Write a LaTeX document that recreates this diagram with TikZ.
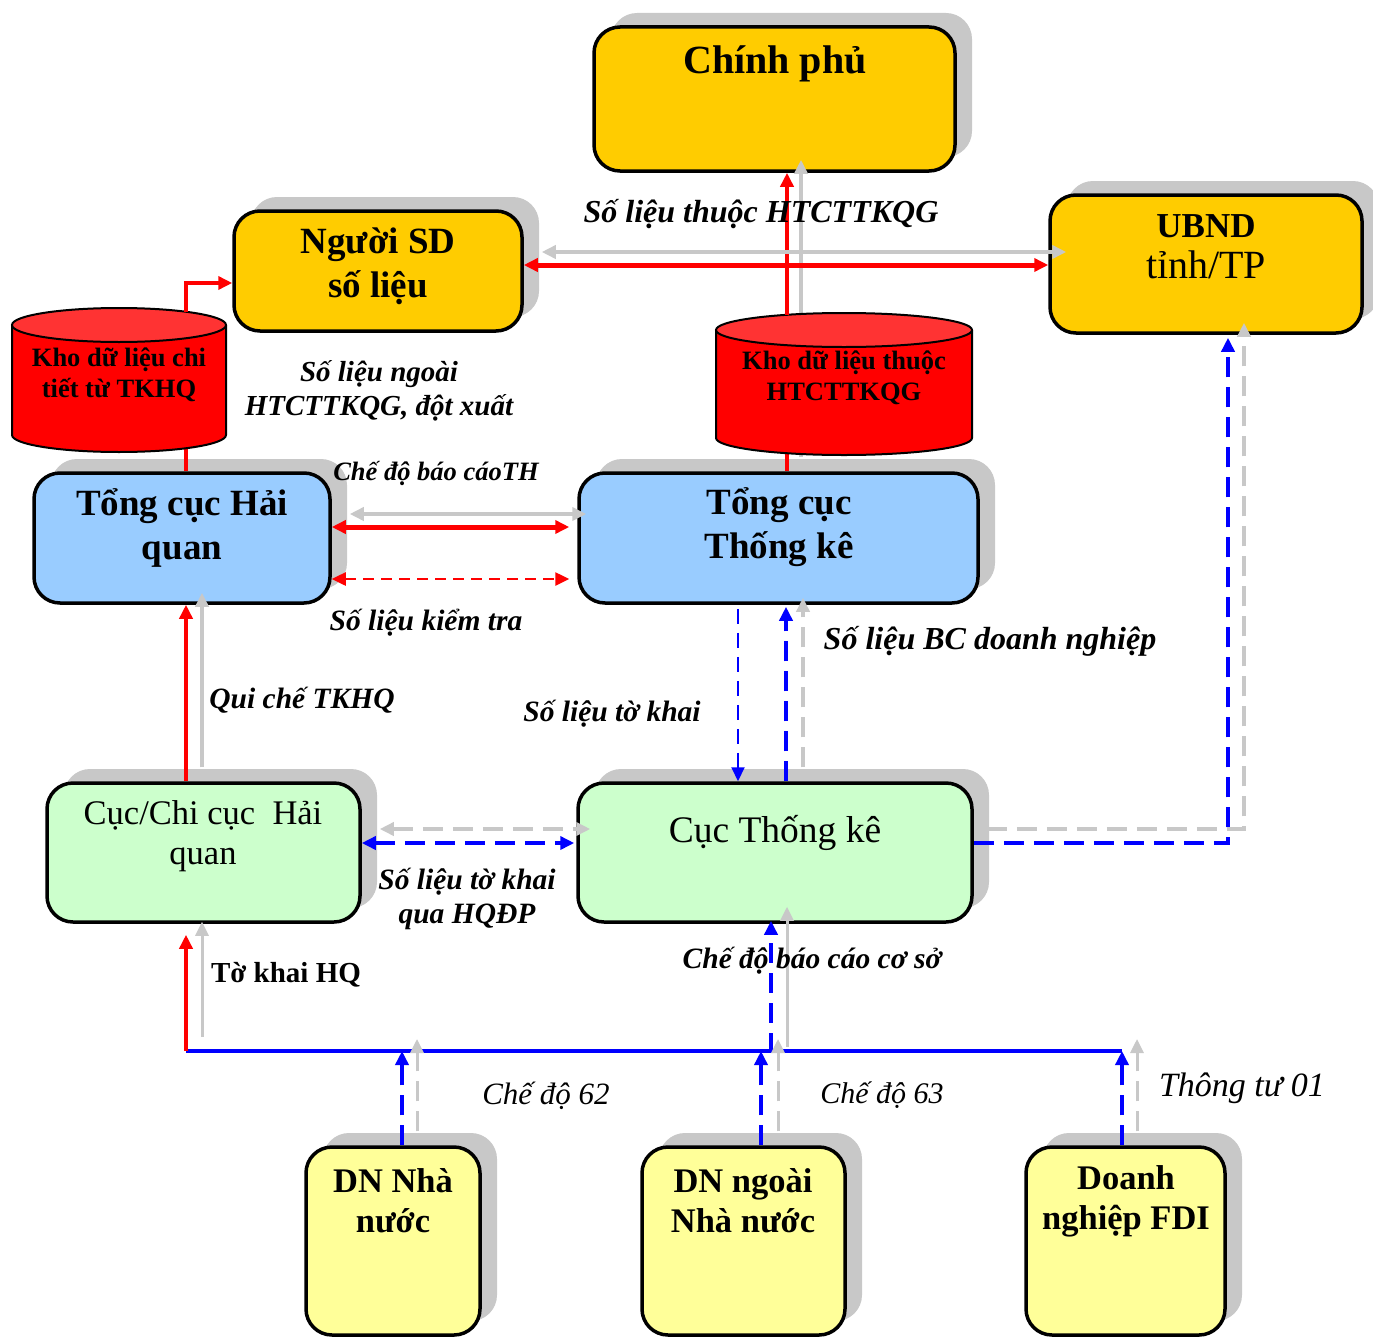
\documentclass[tikz,border=0pt]{standalone}
\usepackage{fontspec}
\setmainfont{Liberation Serif}
\usetikzlibrary{arrows.meta,calc,shadows}
\definecolor{cpyellow}{HTML}{FFCC00}
\definecolor{tcblue}{HTML}{99CCFF}
\definecolor{cgreen}{HTML}{CCFFCC}
\definecolor{dnyellow}{HTML}{FFFF99}
\definecolor{shgray}{RGB}{200,200,200}
\definecolor{arrgray}{RGB}{200,200,200}
\definecolor{kred}{HTML}{FF0000}
\definecolor{ktop}{HTML}{FF3333}
\definecolor{bblue}{HTML}{0000FF}
\begin{document}
\begin{tikzpicture}[x=1pt,y=-1pt,
  box/.style={draw=black, line width=3.5pt, rounded corners=26pt, inner sep=0pt,
    drop shadow={opacity=1, fill=shgray, shadow xshift=17pt, shadow yshift=14pt}},
  txt/.style={inner sep=0pt, align=center},
  bigb/.style={font=\fontsize{37}{44}\selectfont\bfseries},
  lab/.style={inner sep=0pt, align=center, font=\fontsize{29.5}{34}\selectfont\bfseries\itshape},
  redthick/.style={draw=kred, line width=5pt},
  redthin/.style={draw=kred, line width=3.5pt},
  greyln/.style={draw=arrgray, line width=4pt},
  bluedash/.style={draw=bblue, line width=3.5pt, dash pattern=on 20pt off 10pt},
  bluethin/.style={draw=bblue, line width=2pt, dash pattern=on 15pt off 9pt},
  greydash/.style={draw=arrgray, line width=4pt, dash pattern=on 20pt off 10pt},
  reddash/.style={draw=kred, line width=2.5pt, dash pattern=on 11pt off 7pt},
  bluesolid/.style={draw=bblue, line width=3.5pt},
  arr/.style={-{Triangle[length=14pt,width=13pt]}},
  darr/.style={{Triangle[length=14pt,width=13pt]}-{Triangle[length=14pt,width=13pt]}}
]
\useasboundingbox[fill=white] (0,0) rectangle (1373,1338);

% ---------- boxes ----------
\node[box, fill=cpyellow, minimum width=361pt, minimum height=144pt] (cp) at (774.5,99) {};
\node[box, fill=cpyellow, minimum width=288pt, minimum height=120pt] (nsd) at (378,271) {};
\node[box, fill=cpyellow, minimum width=312pt, minimum height=138pt] (ubnd) at (1206,264) {};
\node[box, fill=tcblue, minimum width=296pt, minimum height=130pt] (tchq) at (182,538) {};
\node[box, fill=tcblue, minimum width=399pt, minimum height=130pt] (tctk) at (778.5,538) {};
\node[box, fill=cgreen, minimum width=313pt, minimum height=139pt] (chq) at (203.5,852.5) {};
\node[box, fill=cgreen, minimum width=394pt, minimum height=139pt] (ctk) at (775,852.5) {};
\node[box, fill=dnyellow, minimum width=174pt, minimum height=188pt] (dn1) at (393,1241) {};
\node[box, fill=dnyellow, minimum width=203pt, minimum height=188pt] (dn2) at (743.5,1241) {};
\node[box, fill=dnyellow, minimum width=199pt, minimum height=188pt] (dn3) at (1125.5,1241) {};

% anchor nodes for the two data stores
\node[minimum width=214pt, minimum height=144pt, inner sep=0pt] (kho1) at (119,380) {};
\node[minimum width=256pt, minimum height=142pt, inner sep=0pt] (kho2) at (844,384) {};

% ---------- lines running behind the data stores ----------
\draw[greyln, arr] ($(tctk.north)+(22.5,-14)$) -- ($(cp.south)+(26.5,-13)$);
\draw[redthin, line width=4pt] ($(tctk.north)+(8.5,0)$) -- ($(kho2.south)+(-57,-10)$);
\draw[redthin] ($(tchq.north)+(4,0)$) -- ($(kho1.south)+(67,-10)$);

% ---------- cylinders ----------
\fill[kred] (12,325) -- (12,435) arc[start angle=180,end angle=0,x radius=107,y radius=17] -- (226,325) -- cycle;
\draw[line width=2pt] (12,325) -- (12,435) arc[start angle=180,end angle=0,x radius=107,y radius=17] -- (226,325);
\filldraw[fill=ktop, line width=2pt] (119,325) ellipse[x radius=107, y radius=17];

\fill[kred] (716,330) -- (716,438) arc[start angle=180,end angle=0,x radius=128,y radius=17] -- (972,330) -- cycle;
\draw[line width=2pt] (716,330) -- (716,438) arc[start angle=180,end angle=0,x radius=128,y radius=17] -- (972,330);
\filldraw[fill=ktop, line width=2pt] (844,330) ellipse[x radius=128, y radius=17];

% ---------- box texts ----------
\node[txt, font=\fontsize{40}{46}\selectfont\bfseries] (cp-t) at (775,64) {Chính phủ};
\node[txt, bigb] (nsd-t) at (378,266) {Người SD\\số liệu};
\node[txt, font=\fontsize{35}{41}\selectfont] (ubnd-t) at (1206,247) {\textbf{UBND}\\{\fontsize{40}{41}\selectfont tỉnh/TP}};
\node[txt, font=\fontsize{26.5}{31}\selectfont\bfseries] (kho1-t) at (119,375) {Kho dữ liệu chi\\tiết từ TKHQ};
\node[txt, font=\fontsize{26.5}{31}\selectfont\bfseries] (kho2-t) at (844,378) {Kho dữ liệu thuộc\\HTCTTKQG};
\node[txt, bigb] (tchq-t) at (182,528) {Tổng cục Hải\\quan};
\node[txt, bigb] (tctk-t) at (779,527) {Tổng cục\\Thống kê};
\node[txt, font=\fontsize{34.5}{40}\selectfont] (chq-t) at (203,836) {Cục/Chi cục\ \ Hải\\quan};
\node[txt, font=\fontsize{37.5}{41}\selectfont] (ctk-t) at (775,833) {Cục Thống kê};
\node[txt, font=\fontsize{34.5}{40}\selectfont\bfseries] (dn1-t) at (393,1201) {DN Nhà\\nước};
\node[txt, font=\fontsize{34.5}{40}\selectfont\bfseries] (dn2-t) at (743,1201) {DN ngoài\\Nhà nước};
\node[txt, font=\fontsize{34.5}{40}\selectfont\bfseries] (dn3-t) at (1126,1201) {Doanh\\nghiệp FDI};

% ---------- connectors: top part ----------
\draw[redthin, arr] ($(kho1.north)+(67,4)$) |- ($(nsd.west)+(0,12)$);
\draw[redthin, line width=4pt, arr] ($(kho2.north)+(-57,2)$) -- ($(cp.south)+(12.5,0)$);

\draw[greyln, darr] ($(nsd.east)+(18,-19)$) -- ($(ubnd.west)+(18,-12)$);
\draw[redthick, darr] ($(nsd.east)+(0,-6)$) -- ($(ubnd.west)+(0,1)$);

\draw[greyln, darr] ($(tchq.east)+(18,-24)$) -- ($(tctk.west)+(9,-24)$);
\draw[redthick, darr] ($(tchq.east)+(0,-11)$) -- ($(tctk.west)+(-8,-11)$);
\draw[reddash, darr] ($(tchq.east)+(0,41)$) -- ($(tctk.west)+(-8,41)$);

% ---------- connectors: middle ----------
\draw[bluethin, arr] ($(tctk.south)+(-40.5,4)$) coordinate (a1) -- (a1 |- ctk.north);
\draw[bluedash, arr] ($(ctk.north)+(11,0)$) coordinate (a2) -- ($(a2 |- tctk.south)+(0,2)$);
\draw[greydash, arr] ($(ctk.north)+(28,-14)$) coordinate (a3) -- ($(a3 |- tctk.south)+(0,-7)$);

\draw[redthin, arr] ($(chq.north)+(-17.5,0)$) -- ($(tchq.south)+(4,0)$);
\draw[greyln, arr] ($(chq.north)+(-1.5,-14)$) -- ($(tchq.south)+(20,-12)$);

\draw[greydash, darr] ($(chq.east)+(18,-23.5)$) -- ($(ctk.west)+(14,-23.5)$);
\draw[bluedash, darr] ($(chq.east)+(0,-9.5)$) -- ($(ctk.west)+(-2,-9.5)$);

\draw[greydash, arr] ($(ctk.east)+(13,-23.5)$) -| ($(ubnd.south)+(38,-12)$);
\draw[bluedash, arr] ($(ctk.east)+(0,-9.5)$) -| ($(ubnd.south)+(22,3)$);

% ---------- bottom bus ----------
\coordinate (busL) at (186,1051);
\coordinate (busR) at (1122,1051);
\draw[bluesolid] (busL) -- (busR);
\draw[redthin, arr] (busL) -- ($(busL |- chq.south)+(0,11)$);
\draw[greyln, line width=3pt, arr] ($(busL)+(16,-14)$) coordinate (g1) -- ($(g1 |- chq.south)+(0,-2)$);

\draw[greyln, line width=3pt, arr] ($(ctk.south)+(12,123)$) -- ($(ctk.south)+(12,-17)$);
\draw[bluedash, arr] ($(ctk.south)+(-4,129)$) -- ($(ctk.south)+(-4,-3)$);

\draw[greydash, line width=3pt, arr] ($(dn1.north)+(24,-14)$) coordinate (c1) -- ($(c1 |- busL)+(0,-12)$);
\draw[bluedash, arr] ($(dn1.north)+(9,0)$) coordinate (b1) -- (b1 |- busL);
\draw[greydash, line width=3pt, arr] ($(dn2.north)+(34.5,-14)$) coordinate (c2) -- ($(c2 |- busL)+(0,-12)$);
\draw[bluedash, arr] ($(dn2.north)+(17.5,0)$) coordinate (b2) -- (b2 |- busL);
\draw[greydash, line width=3pt, arr] ($(dn3.north)+(11.5,-14)$) coordinate (c3) -- ($(c3 |- busL)+(0,-12)$);
\draw[bluedash, arr] ($(dn3.north)+(-3.5,0)$) coordinate (b3) -- (b3 |- busL);

% ---------- labels ----------
\node[lab, font=\fontsize{32}{34}\selectfont\bfseries\itshape] (l1) at (761,214) {Số liệu thuộc HTCTTKQG};
\node[lab, font=\fontsize{29}{34}\selectfont\bfseries\itshape] (l2) at (379,391) {Số liệu ngoài\\HTCTTKQG, đột xuất};
\node[lab, font=\fontsize{26.5}{30}\selectfont\bfseries\itshape] (l3) at (436,473) {Chế độ báo cáoTH};
\node[lab] (l4) at (426,623) {Số liệu kiểm tra};
\node[lab] (l5) at (302,700) {Qui chế TKHQ};
\node[lab] (l6) at (612,714) {Số liệu tờ khai};
\node[lab, font=\fontsize{32}{34}\selectfont\bfseries\itshape] (l7) at (990,641) {Số liệu BC doanh nghiệp};
\node[lab] (l8) at (467,899) {Số liệu tờ khai\\qua HQĐP};
\node[lab, font=\fontsize{29}{32}\selectfont\bfseries] (l9) at (286,975) {Tờ khai HQ};
\node[lab] (l10) at (812,961) {Chế độ báo cáo cơ sở};
\node[lab, font=\fontsize{31}{32}\selectfont\itshape] (l11) at (546,1096) {Chế độ 62};
\node[lab, font=\fontsize{30}{32}\selectfont\itshape] (l12) at (882,1095) {Chế độ 63};
\node[lab, font=\fontsize{34}{36}\selectfont\itshape] (l13) at (1242,1088) {Thông tư 01};
\end{tikzpicture}
\end{document}
